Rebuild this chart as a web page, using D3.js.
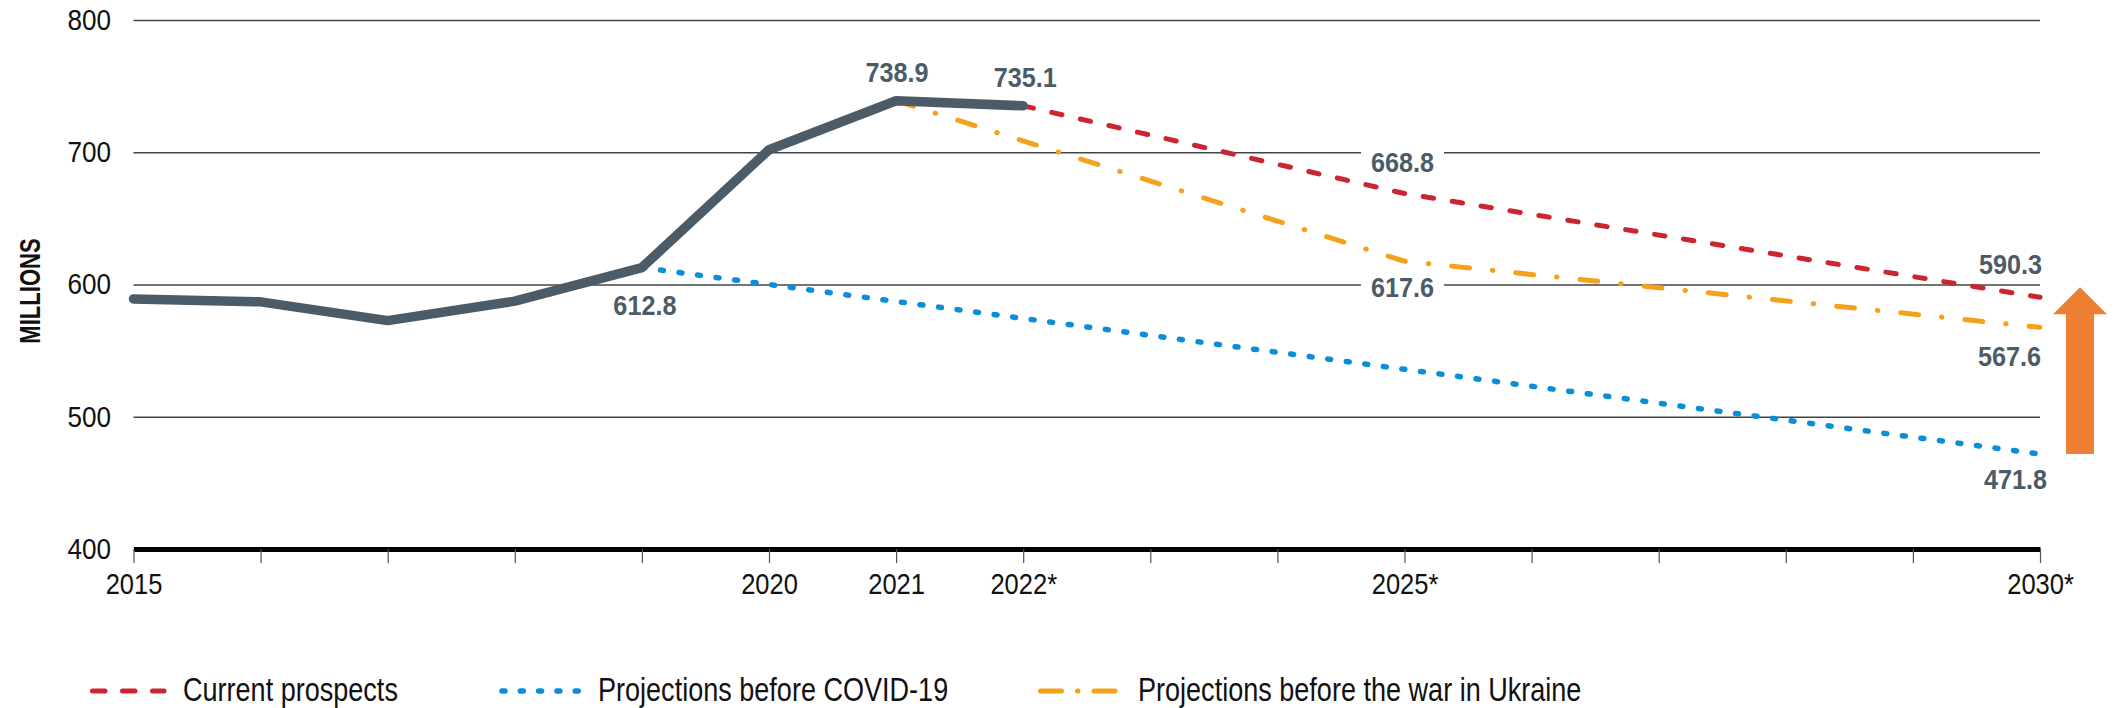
<!DOCTYPE html>
<html>
<head>
<meta charset="utf-8">
<script src="https://cdn.jsdelivr.net/npm/d3@7"></script>
<style>
    body { margin: 0; background: #fff; }
    svg text { font-family: "Liberation Sans", Arial, sans-serif; }
</style>
</head>
<body>
<svg id="chart" width="2115" height="708"></svg>
<script>
    // observed values (millions)
    var actualYears = [2015, 2016, 2017, 2018, 2019, 2020, 2021, 2022];
    var actualValues = [589.0, 586.9, 572.7, 587.4, 612.8, 701.9, 738.9, 735.1];

    var currentYears = [2022, 2025, 2030];
    var currentValues = [735.1, 668.8, 590.3];

    var preCovidYears = [2019, 2030];
    var preCovidValues = [612.8, 471.8];

    var preWarYears = [2021, 2025, 2030];
    var preWarValues = [738.9, 617.6, 567.6];

    var tickYears = d3.range(2015, 2031);
    var tickLabels = {2015: '2015', 2020: '2020', 2021: '2021', 2022: '2022*', 2025: '2025*', 2030: '2030*'};
    var yTicks = [400, 500, 600, 700, 800];

    var legendNames = ['Current prospects', 'Projections before COVID-19', 'Projections before the war in Ukraine'];

    var slate = '#4b5b67';
    var red = '#cc2530';
    var blue = '#0a8fd6';
    var orange = '#f5a11c';

    var svg = d3.select('#chart');

    // no condensed face installed, so squeeze the text horizontally
    function narrow(sel, origin, k) {
        sel.style('transform-box', 'fill-box')
            .style('transform-origin', origin)
            .style('transform', 'scaleX(' + k + ')');
    }

    var x = d3.scaleLinear().domain([2015, 2030]).range([133.5, 2040]);
    var y = d3.scaleLinear().domain([400, 800]).range([549, 20]);

    // y axis + gridlines
    var yAxis = svg.append('g')
        .attr('transform', 'translate(' + x(2015) + ',0)')
        .call(d3.axisLeft(y).tickValues(yTicks).tickSize(-(x(2030) - x(2015))).tickPadding(22.5));
    yAxis.select('.domain').remove();
    yAxis.selectAll('.tick line').attr('stroke', '#444').attr('stroke-width', 1.3);
    yAxis.selectAll('.tick text').attr('font-size', 29).attr('fill', '#111')
        .call(narrow, 'right', 0.9);

    // x axis
    var xAxis = svg.append('g')
        .attr('transform', 'translate(0,' + y(400) + ')')
        .call(d3.axisBottom(x).tickValues(tickYears).tickSize(14).tickSizeOuter(0).tickPadding(10.4)
            .tickFormat(function(d) { return tickLabels[d] || ''; }));
    xAxis.select('.domain').attr('stroke', '#000').attr('stroke-width', 5);
    xAxis.selectAll('.tick line').attr('stroke', '#555').attr('stroke-width', 1.2);
    xAxis.selectAll('.tick text').attr('font-size', 29).attr('fill', '#111')
        .call(narrow, 'center', 0.88);

    svg.append('g')
        .attr('transform', 'translate(40,291) rotate(-90)')
        .append('text')
        .attr('text-anchor', 'middle')
        .attr('font-size', 29)
        .attr('font-weight', 'bold')
        .attr('fill', '#111')
        .text('MILLIONS')
        .call(narrow, 'center', 0.76);

    var line = d3.line()
        .x(function(d) { return x(d[0]); })
        .y(function(d) { return y(d[1]); });

    function pairs(xs, vs) {
        return xs.map(function(v, i) { return [v, vs[i]]; });
    }

    var styles = [
        {color: red, width: 5, dash: '10.5,18.8', data: pairs(currentYears, currentValues), legendDash: '12.5,17.5'},
        {color: blue, width: 5.5, dash: '3,15.7', data: pairs(preCovidYears, preCovidValues), legendDash: '3,15.3'},
        {color: orange, width: 5, dash: '18,23,0.5,23', data: pairs(preWarYears, preWarValues), legendDash: '21,16,0.5,16'}
    ];

    // projections drawn first, observed line sits on top
    [styles[1], styles[2], styles[0]].forEach(function(s) {
        svg.append('path')
            .datum(s.data)
            .attr('d', line)
            .attr('fill', 'none')
            .attr('stroke', s.color)
            .attr('stroke-width', s.width)
            .attr('stroke-linecap', 'round')
            .attr('stroke-dasharray', s.dash);
    });

    svg.append('path')
        .datum(pairs(actualYears, actualValues))
        .attr('d', line)
        .attr('fill', 'none')
        .attr('stroke', slate)
        .attr('stroke-width', 9.5)
        .attr('stroke-linecap', 'round')
        .attr('stroke-linejoin', 'round');

    // value labels
    var labels = [
        {year: 2019, value: 612.8, anchor: 'middle', dx: 3, dy: 47},
        {year: 2021, value: 738.9, anchor: 'middle', dx: 1, dy: -19},
        {year: 2022, value: 735.1, anchor: 'middle', dx: 2, dy: -19},
        {year: 2025, value: 668.8, anchor: 'middle', dx: -2, dy: -21.5},
        {year: 2025, value: 617.6, anchor: 'middle', dx: -2, dy: 35.5},
        {year: 2030, value: 590.3, anchor: 'end', dx: 2, dy: -23},
        {year: 2030, value: 567.6, anchor: 'end', dx: 1, dy: 38.5},
        {year: 2030, value: 471.8, anchor: 'end', dx: 7, dy: 35}
    ];

    var k = 0.9;
    var lg = svg.append('g');
    labels.forEach(function(l) {
        var g = lg.append('g');
        var t = g.append('text')
            .attr('x', x(l.year) + l.dx)
            .attr('y', y(l.value) + l.dy)
            .attr('text-anchor', l.anchor)
            .attr('font-size', 28)
            .attr('font-weight', 'bold')
            .attr('fill', slate)
            .text(l.value.toFixed(1))
            .call(narrow, l.anchor === 'end' ? 'right' : 'center', k);
        var b = t.node().getBBox();
        var w = b.width * k;
        var bx = l.anchor === 'end' ? b.x + b.width - w : b.x + (b.width - w) / 2;
        g.insert('rect', 'text')
            .attr('x', bx - 10).attr('y', b.y + 5)
            .attr('width', w + 20).attr('height', b.height - 8)
            .attr('fill', '#fff');
    });

    // orange arrow on the right
    var ax = 2080, tipY = y(598), headBase = tipY + 27, baseY = y(471.8);
    svg.append('path')
        .attr('d', 'M' + ax + ',' + tipY +
            'L' + (ax + 27) + ',' + headBase +
            'L' + (ax + 14) + ',' + headBase +
            'L' + (ax + 14) + ',' + baseY +
            'L' + (ax - 14) + ',' + baseY +
            'L' + (ax - 14) + ',' + headBase +
            'L' + (ax - 27) + ',' + headBase + 'Z')
        .attr('fill', '#ed7f33');

    // legend
    var legendX = [92.5, 502, 1040.5];
    var legendEnd = [164, 581, 1115.5];
    var textX = [183, 598, 1138];
    styles.forEach(function(s, i) {
        svg.append('line')
            .attr('x1', legendX[i]).attr('x2', legendEnd[i])
            .attr('y1', 691).attr('y2', 691)
            .attr('stroke', s.color)
            .attr('stroke-width', s.width)
            .attr('stroke-linecap', 'round')
            .attr('stroke-dasharray', s.legendDash);
        svg.append('text')
            .attr('x', textX[i])
            .attr('y', 701)
            .attr('font-size', 33)
            .attr('fill', '#111')
            .text(legendNames[i])
            .call(narrow, 'left', 0.82);
    });
</script>
</body>
</html>
